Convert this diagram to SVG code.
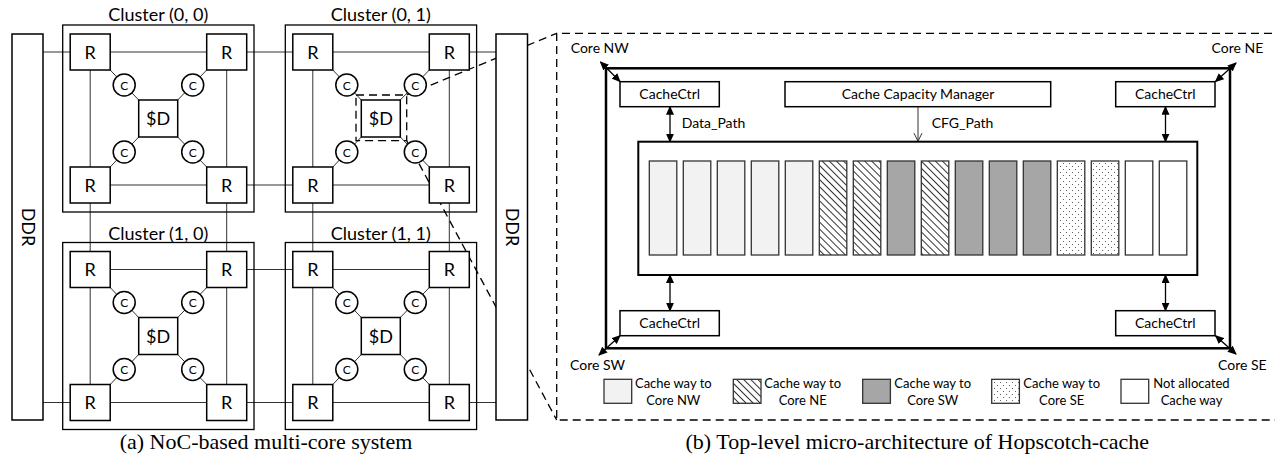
<svg xmlns="http://www.w3.org/2000/svg" width="1275" height="460" viewBox="0 0 1275 460">
<style>
.box{fill:#fff;stroke:#000;stroke-width:1.5}
.clus{fill:none;stroke:#000;stroke-width:1.3}
.wire{stroke:#333;stroke-width:1;fill:none}
.dash{fill:none;stroke:#000;stroke-width:1.3;stroke-dasharray:8 5}
.t{font-family:Lato,"Open Sans",sans-serif;fill:#000;text-anchor:middle}
.tl{font-family:Lato,"Open Sans",sans-serif;fill:#000}
.big{font-size:18px}
.c{font-size:12px}
.m{font-size:14px}
.lg{font-size:13px}
.cap{font-family:"Liberation Serif",serif;font-size:22px;fill:#000;text-anchor:middle}
.arr{stroke:#000;stroke-width:1.3;fill:none}
.way{stroke:#333;stroke-width:1.3}
</style>
<defs>
<marker id="ah" markerUnits="userSpaceOnUse" markerWidth="9" markerHeight="8" refX="8" refY="4" orient="auto-start-reverse">
<path d="M0,0 L9,4 L0,8 z" fill="#000"/>
</marker>
<marker id="oh" markerUnits="userSpaceOnUse" markerWidth="10" markerHeight="10" refX="8" refY="5" orient="auto">
<path d="M0,1 L8,5 L0,9" fill="none" stroke="#333" stroke-width="1"/>
</marker>
<pattern id="hatch" patternUnits="userSpaceOnUse" width="5" height="5" patternTransform="rotate(-45)">
<rect width="5" height="5" fill="#fff"/>
<line x1="2.5" y1="0" x2="2.5" y2="5" stroke="#333" stroke-width="1"/>
</pattern>
<pattern id="dots" patternUnits="userSpaceOnUse" width="6" height="6">
<rect width="6" height="6" fill="#fff"/>
<circle cx="1.5" cy="1.5" r="0.55" fill="#444"/>
<circle cx="4.5" cy="4.5" r="0.55" fill="#444"/>
</pattern>
</defs>
<rect width="1275" height="460" fill="#fff"/>

<g id="connectors">
<path class="wire" d="M43,52 H496 M90,185 H450 M90,269.5 H450 M43,402.5 H496 M90.2,52 V402.5 M226.7,52 V402.5 M312.8,52 V402.5 M449.3,52 V402.5"/>
<path class="wire" d="M110.2,70 L138.7,100 M206.7,70 L177.7,100 M110.2,167 L138.7,137 M206.7,167 L177.7,137
M332.8,70 L361.3,100 M429.3,70 L400.3,100 M332.8,167 L361.3,137 M429.3,167 L400.3,137
M110.2,287.5 L138.7,317.5 M206.7,287.5 L177.7,317.5 M110.2,384.5 L138.7,354.5 M206.7,384.5 L177.7,354.5
M332.8,287.5 L361.3,317.5 M429.3,287.5 L400.3,317.5 M332.8,384.5 L361.3,354.5 M429.3,384.5 L400.3,354.5"/>
<line class="arr" x1="600.5" y1="62" x2="620" y2="81.5" marker-start="url(#ah)" marker-end="url(#ah)"/>
<line class="arr" x1="1236" y1="63" x2="1215.5" y2="81.5" marker-start="url(#ah)" marker-end="url(#ah)"/>
<line class="arr" x1="599" y1="355" x2="620" y2="335.7" marker-start="url(#ah)" marker-end="url(#ah)"/>
<line class="arr" x1="1236" y1="354" x2="1215.5" y2="335.7" marker-start="url(#ah)" marker-end="url(#ah)"/>
<line class="arr" x1="670" y1="106.7" x2="670" y2="141.7" marker-start="url(#ah)" marker-end="url(#ah)"/>
<line class="arr" x1="1165.5" y1="106.7" x2="1165.5" y2="141.7" marker-start="url(#ah)" marker-end="url(#ah)"/>
<line class="arr" x1="670" y1="275" x2="670" y2="310.7" marker-start="url(#ah)" marker-end="url(#ah)"/>
<line class="arr" x1="1165.5" y1="275" x2="1165.5" y2="310.7" marker-start="url(#ah)" marker-end="url(#ah)"/>
<line x1="918" y1="106.7" x2="918" y2="141.2" stroke="#333" stroke-width="1" marker-end="url(#oh)"/>
<path class="dash" d="M406.7,95 L556.7,33.3 M406.7,140.7 L556.7,420"/>
</g>

<g id="ddr-left"><rect class="box" x="12" y="34" width="31" height="386"/><text class="t big" transform="translate(27.5,227) rotate(90)" y="6">DDR</text></g>
<g id="ddr-right"><rect class="box" x="496" y="34" width="31.5" height="386"/><text class="t big" transform="translate(511.8,227) rotate(90)" y="6">DDR</text></g>

<g id="cluster-0-0" transform="translate(62.7,25)">
<rect class="clus" width="191.3" height="187"/>
<g id="c00-r-nw"><rect class="box" x="7.5" y="9" width="40" height="36"/><text class="t big" x="27.5" y="33.5">R</text></g>
<g id="c00-r-ne"><rect class="box" x="144" y="9" width="40" height="36"/><text class="t big" x="164" y="33.5">R</text></g>
<g id="c00-r-sw"><rect class="box" x="7.5" y="142" width="40" height="36"/><text class="t big" x="27.5" y="166.5">R</text></g>
<g id="c00-r-se"><rect class="box" x="144" y="142" width="40" height="36"/><text class="t big" x="164" y="166.5">R</text></g>
<g id="c00-d"><rect class="box" x="76" y="75" width="39" height="37"/><text class="t big" x="95.5" y="100">$D</text></g>
<g id="c00-c-nw"><circle class="box" cx="61.5" cy="60" r="11"/><text class="t c" x="61.5" y="64.5">C</text></g>
<g id="c00-c-ne"><circle class="box" cx="130" cy="60" r="11"/><text class="t c" x="130" y="64.5">C</text></g>
<g id="c00-c-sw"><circle class="box" cx="61.5" cy="127" r="11"/><text class="t c" x="61.5" y="131.5">C</text></g>
<g id="c00-c-se"><circle class="box" cx="130" cy="127" r="11"/><text class="t c" x="130" y="131.5">C</text></g>
<text class="t big" x="95.5" y="-4">Cluster (0, 0)</text>
</g>

<g id="cluster-0-1" transform="translate(285.3,25)">
<rect class="clus" width="191.3" height="187"/>
<g id="c01-r-nw"><rect class="box" x="7.5" y="9" width="40" height="36"/><text class="t big" x="27.5" y="33.5">R</text></g>
<g id="c01-r-ne"><rect class="box" x="144" y="9" width="40" height="36"/><text class="t big" x="164" y="33.5">R</text></g>
<g id="c01-r-sw"><rect class="box" x="7.5" y="142" width="40" height="36"/><text class="t big" x="27.5" y="166.5">R</text></g>
<g id="c01-r-se"><rect class="box" x="144" y="142" width="40" height="36"/><text class="t big" x="164" y="166.5">R</text></g>
<g id="c01-d"><rect class="box" x="76" y="75" width="39" height="37"/><text class="t big" x="95.5" y="100">$D</text></g>
<g id="c01-c-nw"><circle class="box" cx="61.5" cy="60" r="11"/><text class="t c" x="61.5" y="64.5">C</text></g>
<g id="c01-c-ne"><circle class="box" cx="130" cy="60" r="11"/><text class="t c" x="130" y="64.5">C</text></g>
<g id="c01-c-sw"><circle class="box" cx="61.5" cy="127" r="11"/><text class="t c" x="61.5" y="131.5">C</text></g>
<g id="c01-c-se"><circle class="box" cx="130" cy="127" r="11"/><text class="t c" x="130" y="131.5">C</text></g>
<text class="t big" x="95.5" y="-4">Cluster (0, 1)</text>
</g>

<g id="cluster-1-0" transform="translate(62.7,242.5)">
<rect class="clus" width="191.3" height="187"/>
<g id="c10-r-nw"><rect class="box" x="7.5" y="9" width="40" height="36"/><text class="t big" x="27.5" y="33.5">R</text></g>
<g id="c10-r-ne"><rect class="box" x="144" y="9" width="40" height="36"/><text class="t big" x="164" y="33.5">R</text></g>
<g id="c10-r-sw"><rect class="box" x="7.5" y="142" width="40" height="36"/><text class="t big" x="27.5" y="166.5">R</text></g>
<g id="c10-r-se"><rect class="box" x="144" y="142" width="40" height="36"/><text class="t big" x="164" y="166.5">R</text></g>
<g id="c10-d"><rect class="box" x="76" y="75" width="39" height="37"/><text class="t big" x="95.5" y="100">$D</text></g>
<g id="c10-c-nw"><circle class="box" cx="61.5" cy="60" r="11"/><text class="t c" x="61.5" y="64.5">C</text></g>
<g id="c10-c-ne"><circle class="box" cx="130" cy="60" r="11"/><text class="t c" x="130" y="64.5">C</text></g>
<g id="c10-c-sw"><circle class="box" cx="61.5" cy="127" r="11"/><text class="t c" x="61.5" y="131.5">C</text></g>
<g id="c10-c-se"><circle class="box" cx="130" cy="127" r="11"/><text class="t c" x="130" y="131.5">C</text></g>
<text class="t big" x="95.5" y="-3">Cluster (1, 0)</text>
</g>

<g id="cluster-1-1" transform="translate(285.3,242.5)">
<rect class="clus" width="191.3" height="187"/>
<g id="c11-r-nw"><rect class="box" x="7.5" y="9" width="40" height="36"/><text class="t big" x="27.5" y="33.5">R</text></g>
<g id="c11-r-ne"><rect class="box" x="144" y="9" width="40" height="36"/><text class="t big" x="164" y="33.5">R</text></g>
<g id="c11-r-sw"><rect class="box" x="7.5" y="142" width="40" height="36"/><text class="t big" x="27.5" y="166.5">R</text></g>
<g id="c11-r-se"><rect class="box" x="144" y="142" width="40" height="36"/><text class="t big" x="164" y="166.5">R</text></g>
<g id="c11-d"><rect class="box" x="76" y="75" width="39" height="37"/><text class="t big" x="95.5" y="100">$D</text></g>
<g id="c11-c-nw"><circle class="box" cx="61.5" cy="60" r="11"/><text class="t c" x="61.5" y="64.5">C</text></g>
<g id="c11-c-ne"><circle class="box" cx="130" cy="60" r="11"/><text class="t c" x="130" y="64.5">C</text></g>
<g id="c11-c-sw"><circle class="box" cx="61.5" cy="127" r="11"/><text class="t c" x="61.5" y="131.5">C</text></g>
<g id="c11-c-se"><circle class="box" cx="130" cy="127" r="11"/><text class="t c" x="130" y="131.5">C</text></g>
<text class="t big" x="95.5" y="-3">Cluster (1, 1)</text>
</g>

<g id="zoom-frame">
<rect class="dash" x="356" y="95" width="50.7" height="45.7"/>
<path class="dash" d="M1285,33.3 H556.7 V420 H1285"/>
</g>

<g id="hopscotch-cache">
<rect fill="none" stroke="#000" stroke-width="2.5" x="606" y="68.3" width="624" height="280"/>
</g>
<g id="cachectrl-nw"><rect class="box" x="620" y="81.7" width="99.3" height="25"/><text class="t m" x="669.7" y="99">CacheCtrl</text></g>
<g id="cachectrl-ne"><rect class="box" x="1115.7" y="81.7" width="99.3" height="25"/><text class="t m" x="1165.3" y="99">CacheCtrl</text></g>
<g id="cachectrl-sw"><rect class="box" x="620" y="310.7" width="99.3" height="25"/><text class="t m" x="669.7" y="328">CacheCtrl</text></g>
<g id="cachectrl-se"><rect class="box" x="1115.7" y="310.7" width="99.3" height="25"/><text class="t m" x="1165.3" y="328">CacheCtrl</text></g>
<g id="capacity-manager"><rect class="box" x="785" y="81.7" width="265.7" height="25"/><text class="t m" x="918" y="99">Cache Capacity Manager</text></g>
<text class="tl m" x="681.7" y="128">Data_Path</text>
<text class="tl m" x="931.7" y="128">CFG_Path</text>
<text class="tl m" x="570.7" y="53">Core NW</text>
<text class="tl m" x="1263.3" y="53" text-anchor="end">Core NE</text>
<text class="tl m" x="570" y="370">Core SW</text>
<text class="tl m" x="1266.7" y="370" text-anchor="end">Core SE</text>

<g id="cache-ways">
<rect fill="#fff" stroke="#000" stroke-width="2" x="638.3" y="141.7" width="559" height="133.3"/>
<rect class="way" x="649.3" y="161" width="27.5" height="94" fill="#f2f2f2"/>
<rect class="way" x="683.3" y="161" width="27.5" height="94" fill="#f2f2f2"/>
<rect class="way" x="717.3" y="161" width="27.5" height="94" fill="#f2f2f2"/>
<rect class="way" x="751.3" y="161" width="27.5" height="94" fill="#f2f2f2"/>
<rect class="way" x="785.3" y="161" width="27.5" height="94" fill="#f2f2f2"/>
<rect class="way" x="819.3" y="161" width="27.5" height="94" fill="url(#hatch)"/>
<rect class="way" x="853.3" y="161" width="27.5" height="94" fill="url(#hatch)"/>
<rect class="way" x="887.3" y="161" width="27.5" height="94" fill="#a6a6a6"/>
<rect class="way" x="921.3" y="161" width="27.5" height="94" fill="url(#hatch)"/>
<rect class="way" x="955.3" y="161" width="27.5" height="94" fill="#a6a6a6"/>
<rect class="way" x="989.3" y="161" width="27.5" height="94" fill="#a6a6a6"/>
<rect class="way" x="1023.3" y="161" width="27.5" height="94" fill="#a6a6a6"/>
<rect class="way" x="1057.3" y="161" width="27.5" height="94" fill="url(#dots)"/>
<rect class="way" x="1091.3" y="161" width="27.5" height="94" fill="url(#dots)"/>
<rect class="way" x="1125.3" y="161" width="27.5" height="94" fill="#fff"/>
<rect class="way" x="1159.3" y="161" width="27.5" height="94" fill="#fff"/>
</g>

<g id="legend">
<rect class="way" x="604" y="379.3" width="27.7" height="24" fill="#f2f2f2"/>
<text class="t lg" x="673.3" y="388">Cache way to</text><text class="t lg" x="673.3" y="404.5">Core NW</text>
<rect class="way" x="733.3" y="379.3" width="27.7" height="24" fill="url(#hatch)"/>
<text class="t lg" x="802.7" y="388">Cache way to</text><text class="t lg" x="802.7" y="404.5">Core NE</text>
<rect class="way" x="862.7" y="379.3" width="27.7" height="24" fill="#a6a6a6"/>
<text class="t lg" x="932.7" y="388">Cache way to</text><text class="t lg" x="932.7" y="404.5">Core SW</text>
<rect class="way" x="991.7" y="379.3" width="27.7" height="24" fill="url(#dots)"/>
<text class="t lg" x="1061.7" y="388">Cache way to</text><text class="t lg" x="1061.7" y="404.5">Core SE</text>
<rect class="way" x="1121" y="379.3" width="27.7" height="24" fill="#fff"/>
<text class="t lg" x="1191.5" y="388">Not allocated</text><text class="t lg" x="1191.5" y="404.5">Cache way</text>
</g>

<text class="cap" x="266" y="449">(a) NoC-based multi-core system</text>
<text class="cap" x="917.3" y="449">(b) Top-level micro-architecture of Hopscotch-cache</text>
</svg>
